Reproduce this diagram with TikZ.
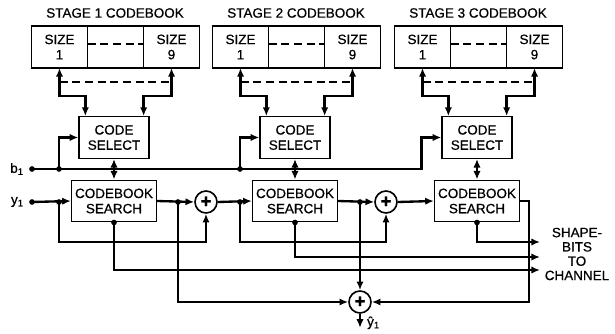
\documentclass[tikz,border=0pt]{standalone}
\usepackage{fontspec}
\setmainfont{Liberation Sans}[FakeBold=0.6]
\usetikzlibrary{arrows.meta,positioning,calc}
\tikzset{
  lettr/.style={font=\fontsize{11.5}{13}\selectfont,align=center},
  cell/.style={lettr,draw,line width=1.1pt,inner sep=0pt,outer sep=0pt,
    minimum width=1.68cm,minimum height=1.26cm},
  blk/.style={lettr,draw,line width=1.1pt,inner sep=0pt,minimum height=1.25cm},
  selbox/.style={blk,minimum width=2.1cm},
  srchbox/.style={blk,minimum width=2.55cm},
  adder/.style={circle,draw,line width=1.4pt,minimum size=0.66cm,inner sep=0pt,
    font=\fontsize{16}{16}\selectfont\bfseries},
  sig/.style={line width=2pt},
  sigar/.style={sig,-{Latex[length=2.6mm,width=2.2mm]}},
  sigboth/.style={sig,{Latex[length=2.6mm,width=2.2mm]}-{Latex[length=2.6mm,width=2.2mm]}},
  dsh/.style={line width=1.1pt,dash pattern=on 2.4mm off 1.4mm},
  jdot/.style={circle,fill,inner sep=0pt,minimum size=1.7mm},
}
\begin{document}
\begin{tikzpicture}[x=0.03cm,y=-0.03cm]
  \useasboundingbox (0,0) rectangle (615,333);
  % the three stages
  \foreach \s/\x in {1/0,2/181,3/363}{
    \node[lettr] (ttl\s) at (\x+115,13) {STAGE \s\ CODEBOOK};
    \node[cell] (one\s) at (\x+59.5,47) {SIZE\\1};
    \node[cell,right=0pt of one\s] (mid\s) {};
    \node[cell,right=0pt of mid\s] (nine\s) {SIZE\\9};
    \node[selbox] (sel\s) at (\x+114,137.5) {CODE\\SELECT};
    \node[srchbox] (srch\s) at (\x+114,201) {CODEBOOK\\SEARCH};
    \draw[dsh] ($(mid\s.west)+(0,-3)$) -- ($(mid\s.east)+(0,-3)$);
    \draw[dsh] ($(one\s.south)+(0,14)$) -- ($(nine\s.south)+(0,14)$);
    \draw[sigboth] (one\s.south) |- ($(sel\s.north west)+(7,-20)$) -- ($(sel\s.north west)+(7,0)$);
    \draw[sigboth] (nine\s.south) |- ($(sel\s.north east)+(-6,-20)$) -- ($(sel\s.north east)+(-6,0)$);
  }
  % inputs
  \node[jdot] (bin) at (32,169) {};
  \node[jdot] (yin) at (32,202) {};
  \node[lettr,left=1pt of bin] (blab) {b\textsubscript{1}};
  \node[lettr,left=1pt of yin] (ylab) {y\textsubscript{1}};
  \node[jdot] (bj1) at (59,169) {};
  \node[jdot] (bj2) at (240,169) {};
  \draw[sigar] (bin.center) -| ($(sel3.west)+(-20,0)$) -- (sel3.west);
  \foreach \s in {1,2} \draw[sigar] (bj\s.center) |- (sel\s.west);
  \foreach \s in {1,2,3}{
    \draw[sigar] (sel\s.south |- bin) -- (sel\s.south);
    \draw[sigar] (sel\s.south |- bin) -- (srch\s.north);
  }
  % residual chain
  \node[adder] (add1) at (206,202) {+};
  \node[adder] (add2) at (386,202) {+};
  \node[adder] (addo) at (360,302) {+};
  \node[jdot] (yj1) at (59,202) {};
  \node[jdot] (yj2) at (240,202) {};
  \node[jdot] (oj1) at (178,202) {};
  \node[jdot] (oj2) at (360,202) {};
  \draw[sigar] (yin.center) -- (srch1.west);
  \draw[sigar] (srch1.east) -- (add1.west);
  \draw[sigar] (add1.east) -- (srch2.west);
  \draw[sigar] (srch2.east) -- (add2.west);
  \draw[sigar] (add2.east) -- (srch3.west);
  \draw[sigar] (yj1.center) -- ++(0,40) -| (add1.south);
  \draw[sigar] (yj2.center) -- ++(0,40) -| (add2.south);
  % reconstruction
  \draw[sigar] (oj1.center) |- (addo.west);
  \draw[sigar] (oj2.center) -- (addo.north);
  \draw[sigar] (srch3.east) -- ++(9,0) |- (addo.east);
  \draw[sigar] (addo.south) -- ++(0,14) coordinate (yout);
  \node[lettr,anchor=west] (yhat) at ($(addo.south)+(3,9)$) {ŷ\textsubscript{1}};
  % shape bits
  \node[lettr,font=\fontsize{11.5}{12.2}\selectfont] (chan) at (577,254) {SHAPE-\\BITS\\TO\\CHANNEL};
  \coordinate (to3) at (540,242);
  \coordinate (to2) at (540,257);
  \coordinate (to1) at (540,270);
  \foreach \s in {1,2,3}{
    \node[jdot] at (srch\s.south) {};
    \draw[sigar] (srch\s.south) |- (to\s);
  }
\end{tikzpicture}
\end{document}
